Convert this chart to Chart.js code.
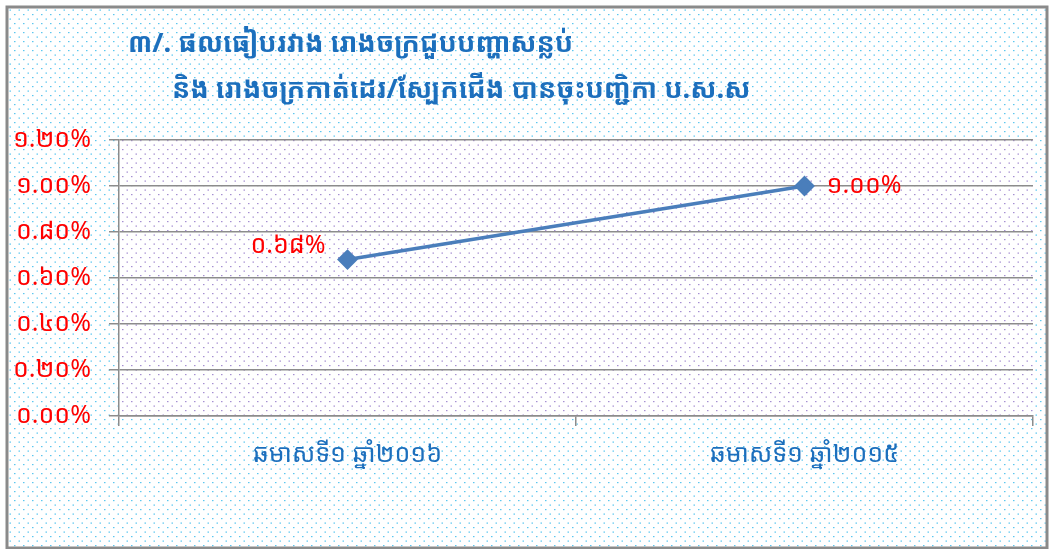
<!DOCTYPE html>
<html>
<head>
<meta charset="utf-8">
<script src="https://cdn.jsdelivr.net/npm/chart.js@4/dist/chart.umd.min.js"></script>
<style>
html,body{margin:0;padding:0;background:#fff;}
#wrap{width:1050px;height:549px;position:relative;}
</style>
</head>
<body>
<div id="wrap"><canvas id="c" width="1050" height="549"></canvas></div>
<script>
const titleLines = ['៣/. ផលធៀបរវាង រោងចក្រជួបបញ្ហាសន្លប់', 'និង រោងចក្រកាត់ដេរ/ស្បែកជើង បានចុះបញ្ជិកា ប.ស.ស'];
const categories = ['ឆមាសទី១ ឆ្នាំ២០១៦', 'ឆមាសទី១ ឆ្នាំ២០១៥'];
const values = [0.68, 1.00];
const valueLabels = ['០.៦៨%', '១.០០%'];
const yTickLabels = ['០.០០%', '០.២០%', '០.៤០%', '០.៦០%', '០.៨០%', '១.០០%', '១.២០%'];

const FONT = '"Khmer OS", "Noto Sans Khmer", "Khmer OS System", "Noto Sans", "DejaVu Sans", sans-serif';

function makePattern(ctx, dot) {
  const step = 9;
  const t = document.createElement('canvas');
  t.width = step; t.height = step;
  const g = t.getContext('2d');
  g.fillStyle = '#ffffff'; g.fillRect(0, 0, step, step);
  g.fillStyle = dot;
  g.fillRect(0.5, 0.5, 1.5, 1.2);
  g.fillRect(5, 5, 1.5, 1.2);
  return ctx.createPattern(t, 'repeat');
}

const bgPlugin = {
  id: 'bgPlugin',
  beforeDraw(chart) {
    const ctx = chart.ctx;
    const a = chart.chartArea;
    ctx.save();
    ctx.fillStyle = '#ffffff';
    ctx.fillRect(0, 0, chart.width, chart.height);
    ctx.fillStyle = makePattern(ctx, '#5cc6ef');
    ctx.fillRect(7, 7, chart.width - 8, chart.height - 7);
    ctx.fillStyle = makePattern(ctx, '#a590d2');
    ctx.fillRect(a.left, a.top, a.right - a.left, a.bottom - a.top);
    ctx.strokeStyle = '#8a8a8a';
    ctx.lineWidth = 3;
    ctx.strokeRect(7, 7, 1040, 541);
    // title
    ctx.fillStyle = '#1c6fbd';
    ctx.font = 'bold 27px ' + FONT;
    ctx.textBaseline = 'middle';
    ctx.textAlign = 'left';
    ctx.fillText(titleLines[0], 128, 44);
    ctx.fillText(titleLines[1], 172, 90);
    ctx.restore();
  }
};

const labelPlugin = {
  id: 'labelPlugin',
  afterDatasetsDraw(chart) {
    const ctx = chart.ctx;
    const meta = chart.getDatasetMeta(0);
    ctx.save();
    ctx.fillStyle = '#ff0000';
    ctx.font = '25px ' + FONT;
    ctx.textBaseline = 'middle';
    meta.data.forEach((pt, i) => {
      if (i === 0) {
        ctx.textAlign = 'right';
        ctx.fillText(valueLabels[i], pt.x - 22, pt.y - 14);
      } else {
        ctx.textAlign = 'left';
        ctx.fillText(valueLabels[i], pt.x + 22, pt.y);
      }
    });
    ctx.restore();
  }
};

new Chart(document.getElementById('c'), {
  type: 'line',
  data: {
    labels: categories,
    datasets: [{
      data: values,
      borderColor: '#4a7ebb',
      backgroundColor: '#4a7ebb',
      borderWidth: 3.5,
      pointStyle: 'rectRot',
      pointRadius: 8,
      pointHoverRadius: 8,
      pointBackgroundColor: '#4a7ebb',
      pointBorderColor: '#4a7ebb',
      tension: 0
    }]
  },
  options: {
    responsive: false,
    animation: false,
    devicePixelRatio: 1,
    layout: { padding: { top: 140, right: 17, bottom: 0, left: 0 } },
    plugins: { legend: { display: false }, title: { display: false }, tooltip: { enabled: false } },
    scales: {
      x: {
        offset: true,
        grid: { offset: true, drawOnChartArea: false, drawTicks: true, tickLength: 10, color: '#8c8c8c', lineWidth: 1.5 },
        border: { color: '#8c8c8c', width: 1.5 },
        ticks: { color: '#1c6fbd', font: { family: FONT, size: 25 }, padding: 14, maxRotation: 0 },
        afterFit(s) { s.height = 133; }
      },
      y: {
        min: 0, max: 1.2,
        ticks: {
          stepSize: 0.2,
          color: '#ff0000',
          font: { family: FONT, size: 25 },
          padding: 18,
          callback: (v, i) => yTickLabels[i]
        },
        grid: { color: '#8c8c8c', lineWidth: 1.5, tickLength: 10 },
        border: { color: '#8c8c8c', width: 1.5 },
        afterFit(s) { s.width = 119; }
      }
    }
  },
  plugins: [bgPlugin, labelPlugin]
});
</script>
</body>
</html>
